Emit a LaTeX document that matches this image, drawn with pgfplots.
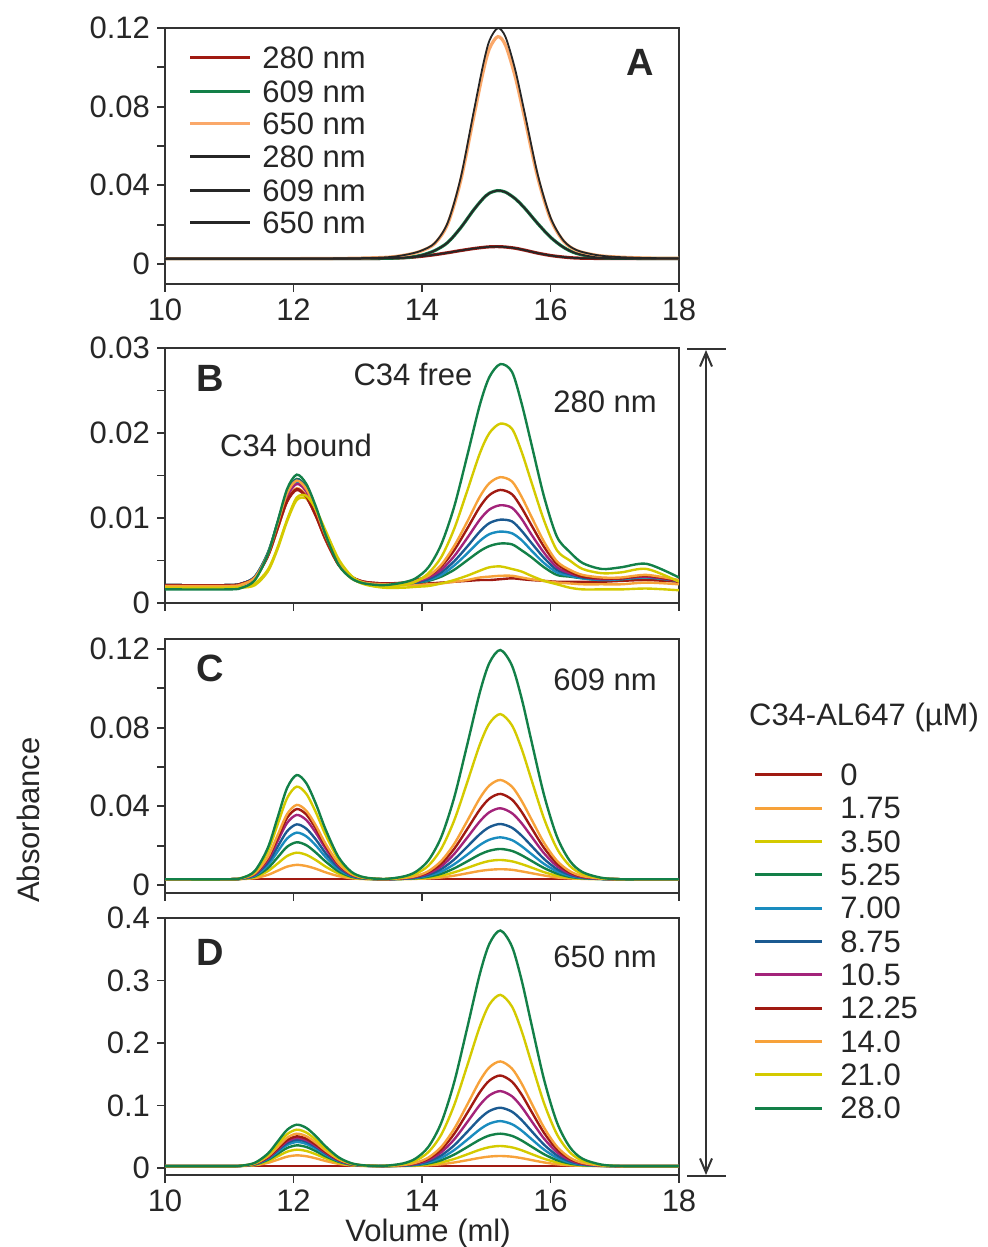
\documentclass[border=0pt]{standalone}
\usepackage{pgfplots}
\pgfplotsset{compat=1.18}
\usepackage{pgfplotstable}
\usepackage{fontspec}
\setmainfont{Liberation Sans}
\usetikzlibrary{arrows.meta}

\definecolor{cDR}{HTML}{A01A12}
\definecolor{cOR}{HTML}{F7A23A}
\definecolor{cYE}{HTML}{D4CA00}
\definecolor{cGR}{HTML}{138048}
\definecolor{cCY}{HTML}{1A8CBF}
\definecolor{cBL}{HTML}{1B5A91}
\definecolor{cMA}{HTML}{A3237A}
\definecolor{cOL}{HTML}{FAA86A}
\definecolor{axgray}{HTML}{333333}

% panel A: single run, three wavelengths (colour) and repeat (black)
\pgfplotstableread{
x     r280   g609   o650   k650
10.0  .0027  .0027  .0027  .0027
11.0  .0027  .0027  .0027  .0027
12.0  .0027  .0027  .0027  .0027
12.5  .0027  .0027  .0028  .0028
13.0  .0027  .0027  .0029  .0029
13.5  .0029  .0029  .0035  .0035
13.8  .0033  .0034  .0049  .0050
14.0  .0039  .0045  .0067  .0069
14.2  .0047  .0068  .0104  .0107
14.4  .0057  .0109  .0203  .0210
14.6  .0068  .0183  .0420  .0435
14.8  .0078  .0273  .0739  .0766
14.95 .0084  .0332  .0975  .1011
15.05 .0087  .0360  .1095  .1136
15.18 .0088  .0373  .1156  .1199
15.3  .0086  .0365  .1112  .1154
15.45 .0080  .0332  .0953  .0989
15.6  .0070  .0283  .0738  .0765
15.8  .0055  .0206  .0441  .0457
16.0  .0043  .0136  .0229  .0237
16.2  .0035  .0085  .0117  .0120
16.4  .0030  .0054  .0069  .0071
16.7  .0028  .0034  .0045  .0046
17.0  .0027  .0029  .0036  .0036
17.5  .0027  .0028  .0030  .0030
18.0  .0027  .0028  .0029  .0029
}\tabA

% panel B: 280 nm, columns = C34-AL647 concentration
\pgfplotstableread{
x     s0    s1    s2    s3    s4    s5    s6    s7    s8    s9    s10
10.0  .0021 .0020 .0017 .0021 .0021 .0021 .0020 .0021 .0020 .0018 .0016
11.0  .0021 .0020 .0017 .0021 .0021 .0021 .0020 .0021 .0020 .0018 .0016
11.2  .0023 .0022 .0018 .0023 .0023 .0023 .0022 .0023 .0022 .0019 .0018
11.4  .0030 .0029 .0021 .0031 .0031 .0031 .0030 .0030 .0030 .0023 .0027
11.6  .0055 .0055 .0037 .0059 .0058 .0058 .0056 .0055 .0057 .0039 .0057
11.75 .0087 .0087 .0063 .0094 .0093 .0094 .0090 .0087 .0093 .0065 .0095
11.9  .0119 .0121 .0096 .0130 .0128 .0130 .0125 .0120 .0129 .0098 .0134
12.05 .0133 .0135 .0121 .0146 .0143 .0145 .0140 .0134 .0144 .0124 .0151
12.2  .0124 .0126 .0123 .0136 .0133 .0135 .0131 .0125 .0134 .0126 .0140
12.35 .0102 .0103 .0108 .0111 .0109 .0110 .0106 .0102 .0109 .0110 .0113
12.5  .0074 .0075 .0083 .0081 .0079 .0080 .0077 .0075 .0079 .0085 .0080
12.7  .0045 .0045 .0050 .0048 .0047 .0048 .0046 .0045 .0047 .0052 .0045
12.9  .0031 .0029 .0030 .0031 .0031 .0031 .0031 .0031 .0031 .0032 .0029
13.1  .0025 .0023 .0022 .0024 .0024 .0024 .0024 .0025 .0024 .0023 .0023
13.4  .0023 .0021 .0018 .0022 .0022 .0022 .0022 .0023 .0022 .0019 .0021
13.7  .0023 .0021 .0018 .0023 .0023 .0023 .0023 .0024 .0023 .0021 .0024
13.9  .0023 .0021 .0019 .0024 .0024 .0024 .0025 .0027 .0026 .0025 .0029
14.1  .0023 .0022 .0020 .0026 .0027 .0028 .0030 .0032 .0032 .0035 .0042
14.3  .0024 .0023 .0023 .0031 .0033 .0036 .0039 .0043 .0045 .0054 .0069
14.5  .0025 .0025 .0027 .0039 .0044 .0049 .0055 .0062 .0067 .0087 .0113
14.7  .0026 .0027 .0032 .0050 .0058 .0066 .0076 .0087 .0095 .0131 .0172
14.9  .0027 .0030 .0038 .0061 .0073 .0084 .0098 .0113 .0125 .0176 .0233
15.05 .0027 .0031 .0042 .0067 .0081 .0094 .0110 .0127 .0141 .0200 .0266
15.22 .0028 .0032 .0043 .0070 .0084 .0098 .0115 .0133 .0148 .0211 .0281
15.4  .0029 .0032 .0040 .0069 .0082 .0096 .0112 .0128 .0143 .0205 .0272
15.55 .0028 .0030 .0037 .0062 .0074 .0085 .0099 .0112 .0125 .0178 .0235
15.7  .0027 .0028 .0032 .0054 .0062 .0071 .0081 .0092 .0102 .0143 .0188
15.9  .0026 .0026 .0026 .0042 .0047 .0053 .0059 .0066 .0072 .0097 .0125
16.1  .0025 .0024 .0022 .0033 .0036 .0039 .0042 .0046 .0049 .0062 .0078
16.3  .0025 .0023 .0018 .0031 .0032 .0034 .0035 .0037 .0039 .0050 .0060
16.5  .0025 .0022 .0016 .0029 .0029 .0030 .0031 .0031 .0033 .0040 .0047
16.8  .0025 .0022 .0016 .0027 .0027 .0028 .0028 .0029 .0030 .0035 .0040
17.1  .0026 .0022 .0016 .0028 .0028 .0029 .0029 .0029 .0030 .0036 .0042
17.5  .0027 .0024 .0017 .0030 .0030 .0031 .0031 .0032 .0033 .0040 .0046
18.0  .0025 .0022 .0015 .0026 .0026 .0026 .0026 .0026 .0027 .0025 .0030
}\tabB

% panel C: 609 nm
\pgfplotstableread{
x     s0    s1    s2    s3    s4    s5    s6    s7    s8    s9    s10
10.0  .0029 .0029 .0029 .0029 .0029 .0029 .0029 .0029 .0029 .0029 .0029
11.0  .0029 .0029 .0029 .0029 .0029 .0029 .0029 .0029 .0029 .0029 .0029
11.2  .0029 .0030 .0031 .0032 .0032 .0033 .0034 .0034 .0034 .0036 .0036
11.4  .0029 .0035 .0040 .0044 .0048 .0052 .0055 .0058 .0060 .0067 .0072
11.6  .0029 .0051 .0070 .0085 .0100 .0113 .0127 .0136 .0142 .0170 .0188
11.75 .0029 .0072 .0108 .0139 .0168 .0193 .0221 .0238 .0251 .0305 .0340
11.9  .0029 .0093 .0147 .0194 .0236 .0273 .0315 .0341 .0360 .0441 .0493
12.05 .0029 .0102 .0164 .0217 .0266 .0308 .0356 .0386 .0407 .0500 .0559
12.2  .0029 .0096 .0153 .0202 .0247 .0286 .0330 .0358 .0377 .0463 .0517
12.35 .0029 .0082 .0126 .0164 .0200 .0230 .0264 .0286 .0301 .0368 .0411
12.5  .0029 .0064 .0093 .0119 .0142 .0162 .0185 .0199 .0209 .0254 .0282
12.7  .0029 .0045 .0058 .0069 .0080 .0089 .0099 .0105 .0110 .0130 .0142
12.9  .0029 .0034 .0039 .0042 .0046 .0049 .0052 .0054 .0056 .0062 .0067
13.1  .0029 .0030 .0031 .0032 .0033 .0034 .0035 .0035 .0036 .0037 .0039
13.4  .0029 .0029 .0029 .0029 .0029 .0029 .0029 .0029 .0029 .0030 .0030
13.7  .0029 .0030 .0030 .0031 .0031 .0032 .0033 .0034 .0035 .0038 .0042
13.9  .0029 .0031 .0032 .0034 .0036 .0038 .0041 .0043 .0045 .0056 .0066
14.1  .0029 .0033 .0037 .0042 .0047 .0052 .0059 .0065 .0070 .0098 .0125
14.3  .0029 .0038 .0047 .0057 .0068 .0081 .0095 .0109 .0122 .0184 .0244
14.5  .0029 .0047 .0064 .0084 .0105 .0129 .0157 .0183 .0208 .0327 .0443
14.7  .0029 .0059 .0086 .0119 .0153 .0193 .0239 .0282 .0323 .0518 .0708
14.9  .0029 .0071 .0109 .0155 .0203 .0258 .0323 .0383 .0441 .0714 .0979
15.05 .0029 .0077 .0122 .0174 .0230 .0294 .0370 .0439 .0506 .0822 .1130
15.22 .0029 .0080 .0127 .0183 .0242 .0310 .0390 .0463 .0534 .0869 .1195
15.4  .0029 .0077 .0120 .0173 .0228 .0291 .0365 .0434 .0500 .0812 .1116
15.55 .0029 .0069 .0106 .0151 .0197 .0251 .0314 .0372 .0428 .0693 .0950
15.7  .0029 .0060 .0089 .0123 .0158 .0200 .0248 .0292 .0336 .0539 .0737
15.9  .0029 .0048 .0065 .0086 .0107 .0132 .0161 .0188 .0214 .0337 .0457
16.1  .0029 .0038 .0047 .0058 .0069 .0081 .0096 .0110 .0123 .0185 .0246
16.3  .0029 .0033 .0037 .0041 .0046 .0052 .0058 .0064 .0070 .0097 .0123
16.5  .0029 .0031 .0032 .0034 .0036 .0038 .0040 .0042 .0045 .0055 .0065
16.8  .0029 .0030 .0030 .0030 .0030 .0031 .0031 .0032 .0032 .0034 .0036
17.1  .0029 .0029 .0029 .0029 .0029 .0029 .0029 .0029 .0029 .0029 .0029
17.5  .0029 .0029 .0029 .0029 .0029 .0029 .0029 .0029 .0029 .0029 .0029
18.0  .0029 .0029 .0029 .0029 .0029 .0029 .0029 .0029 .0029 .0029 .0029
}\tabC

% panel D: 650 nm
\pgfplotstableread{
x     s0    s1    s2    s3    s4    s5    s6    s7    s8    s9    s10
10.0  .0030 .0030 .0030 .0030 .0030 .0030 .0030 .0030 .0030 .0030 .0030
11.0  .0030 .0030 .0030 .0030 .0030 .0030 .0030 .0030 .0030 .0030 .0030
11.2  .0030 .0032 .0034 .0035 .0035 .0036 .0036 .0037 .0037 .0038 .0039
11.4  .0030 .0044 .0051 .0057 .0061 .0064 .0066 .0069 .0072 .0077 .0084
11.6  .0030 .0082 .0109 .0130 .0146 .0157 .0165 .0173 .0186 .0205 .0229
11.75 .0030 .0131 .0184 .0225 .0256 .0278 .0294 .0309 .0334 .0372 .0419
11.9  .0030 .0181 .0260 .0320 .0368 .0400 .0424 .0447 .0484 .0540 .0610
12.05 .0030 .0202 .0293 .0362 .0416 .0453 .0480 .0506 .0549 .0613 .0693
12.2  .0030 .0188 .0272 .0336 .0385 .0420 .0444 .0468 .0508 .0567 .0641
12.35 .0030 .0154 .0219 .0269 .0308 .0335 .0354 .0373 .0404 .0450 .0507
12.5  .0030 .0112 .0155 .0188 .0214 .0232 .0245 .0257 .0278 .0308 .0346
12.7  .0030 .0067 .0086 .0101 .0113 .0121 .0126 .0132 .0141 .0155 .0172
12.9  .0030 .0042 .0049 .0054 .0057 .0060 .0062 .0064 .0067 .0071 .0077
13.1  .0030 .0033 .0035 .0036 .0037 .0038 .0038 .0039 .0039 .0041 .0042
13.4  .0030 .0030 .0030 .0030 .0031 .0031 .0031 .0032 .0032 .0033 .0034
13.7  .0030 .0032 .0034 .0036 .0038 .0040 .0043 .0046 .0048 .0060 .0072
13.9  .0030 .0035 .0040 .0047 .0053 .0060 .0068 .0076 .0084 .0118 .0151
14.1  .0030 .0043 .0056 .0073 .0089 .0107 .0128 .0149 .0167 .0255 .0339
14.3  .0030 .0060 .0089 .0125 .0162 .0202 .0251 .0297 .0338 .0534 .0724
14.5  .0030 .0088 .0144 .0214 .0286 .0362 .0456 .0545 .0625 .1003 .1368
14.7  .0030 .0124 .0217 .0332 .0449 .0574 .0728 .0874 .1005 .1625 .2224
14.9  .0030 .0162 .0292 .0453 .0617 .0791 .1008 .1212 .1395 .2263 .3103
15.05 .0030 .0183 .0334 .0520 .0710 .0912 .1163 .1399 .1611 .2617 .3589
15.22 .0030 .0192 .0352 .0549 .0750 .0964 .1230 .1480 .1705 .2770 .3800
15.4  .0030 .0181 .0330 .0514 .0701 .0901 .1148 .1381 .1591 .2584 .3544
15.55 .0030 .0158 .0284 .0440 .0599 .0768 .0978 .1176 .1353 .2195 .3008
15.7  .0030 .0128 .0225 .0345 .0467 .0597 .0758 .0910 .1047 .1693 .2318
15.9  .0030 .0089 .0148 .0220 .0294 .0373 .0470 .0562 .0645 .1036 .1414
16.1  .0030 .0060 .0090 .0126 .0164 .0204 .0253 .0300 .0342 .0540 .0731
16.3  .0030 .0043 .0056 .0072 .0088 .0106 .0127 .0147 .0166 .0252 .0335
16.5  .0030 .0035 .0040 .0046 .0052 .0059 .0067 .0075 .0082 .0115 .0147
16.8  .0030 .0031 .0032 .0033 .0034 .0036 .0037 .0039 .0040 .0046 .0053
17.1  .0030 .0030 .0030 .0030 .0030 .0030 .0030 .0030 .0030 .0031 .0032
17.5  .0030 .0030 .0030 .0030 .0030 .0030 .0030 .0030 .0030 .0030 .0030
18.0  .0030 .0030 .0030 .0030 .0030 .0030 .0030 .0030 .0030 .0030 .0030
}\tabD

\newcommand{\lbl}{\fontsize{15.5}{18}\selectfont}

\pgfplotsset{
  panel/.style={
    scale only axis, width=257pt, anchor=south west,
    xmin=10, xmax=18,
    axis line style={axgray, line width=1pt},
    tick style={axgray, line width=0.9pt},
    tick align=outside, major tick length=4pt, minor tick length=4pt,
    xtick pos=bottom, ytick pos=left,
    xtick={10,12,14,16,18},
    scaled y ticks=false,
    yticklabel={\pgfmathprintnumber[fixed,precision=2,assume math mode=true]{\tick}},
    ticklabel style={font=\lbl, text=black!85},
    every axis plot/.append style={smooth, line width=1.2pt, mark=none},
  },
  xnums/.style={xticklabel={\pgfmathprintnumber[assume math mode=true]{\tick}}},
  nox/.style={xticklabels={}},
}

\newcommand{\series}[1]{%
  \addplot[cDR] table[x=x,y=s0]{#1};
  \addplot[cOR] table[x=x,y=s1]{#1};
  \addplot[cYE] table[x=x,y=s2]{#1};
  \addplot[cGR] table[x=x,y=s3]{#1};
  \addplot[cCY] table[x=x,y=s4]{#1};
  \addplot[cBL] table[x=x,y=s5]{#1};
  \addplot[cMA] table[x=x,y=s6]{#1};
  \addplot[cDR] table[x=x,y=s7]{#1};
  \addplot[cOR] table[x=x,y=s8]{#1};
  \addplot[cYE] table[x=x,y=s9]{#1};
  \addplot[cGR] table[x=x,y=s10]{#1};
}

\begin{document}
\begin{tikzpicture}
\useasboundingbox (0,0) rectangle (493.5pt,623.5pt);

% A
\begin{axis}[panel, xnums, at={(82.5pt,481.5pt)}, height=128pt,
  ymin=-0.0102, ymax=0.12,
  ytick={0,0.04,0.08,0.12}, minor ytick={0.02,0.06,0.1}]
  \addplot[cDR, line width=1.6pt] table[x=x,y=r280]{\tabA};
  \addplot[cGR, line width=1.6pt] table[x=x,y=g609]{\tabA};
  \addplot[cOL, line width=1.6pt] table[x=x,y=o650]{\tabA};
  \addplot[black!85, line width=0.9pt] table[x=x,y=r280]{\tabA};
  \addplot[black!85, line width=0.9pt] table[x=x,y=g609]{\tabA};
  \addplot[black!85, line width=0.9pt] table[x=x,y=k650]{\tabA};
\end{axis}

% B
\begin{axis}[panel, nox, at={(82.5pt,322pt)}, height=127.5pt,
  ymin=0, ymax=0.03,
  ytick={0,0.01,0.02,0.03}, minor ytick={0.005,0.015,0.025}]
  \series{\tabB}
\end{axis}

% C
\begin{axis}[panel, nox, at={(82.5pt,177pt)}, height=127pt,
  ymin=-0.0041, ymax=0.1251,
  ytick={0,0.04,0.08,0.12}, minor ytick={0.02,0.06,0.1}]
  \series{\tabC}
\end{axis}

% D
\begin{axis}[panel, xnums, at={(82.5pt,36pt)}, height=128.5pt,
  ymin=-0.0112, ymax=0.4,
  ytick={0,0.1,0.2,0.3,0.4}]
  \series{\tabD}
\end{axis}

% legend of A
\foreach \c/\t/\y in {cDR/280 nm/594.5, cGR/609 nm/577.5, cOL/650 nm/561.5,
    black!85/280 nm/545, black!85/609 nm/528, black!85/650 nm/512} {
  \draw[\c, line width=1.5pt] (95pt,\y pt) -- (125pt,\y pt);
  \node[anchor=west, inner sep=0, font=\lbl, text=black!85] at (131pt,\y pt) {\t};
}

% panel letters and annotations
\node[font=\bfseries\fontsize{19}{22}\selectfont, text=black!85] at (320pt,592.5pt) {A};
\node[font=\bfseries\fontsize{19}{22}\selectfont, text=black!85] at (105pt,434.5pt) {B};
\node[font=\bfseries\fontsize{19}{22}\selectfont, text=black!85] at (105pt,289.5pt) {C};
\node[font=\bfseries\fontsize{19}{22}\selectfont, text=black!85] at (105pt,147.5pt) {D};
\node[font=\lbl, text=black!85] at (302.5pt,422.5pt) {280 nm};
\node[font=\lbl, text=black!85] at (302.5pt,283.5pt) {609 nm};
\node[font=\lbl, text=black!85] at (302.5pt,145pt) {650 nm};
\node[font=\lbl, text=black!85] at (148pt,401pt) {C34 bound};
\node[font=\lbl, text=black!85] at (206.5pt,436.5pt) {C34 free};
\node[font=\lbl, text=black!85, inner sep=0] at (214pt,7pt) {Volume (ml)};
\node[font=\lbl, text=black!85, rotate=90] at (14pt,213.5pt) {Absorbance};

% range arrow
\draw[axgray, line width=1pt] (343.5pt,449pt) -- (363pt,449pt);
\draw[axgray, line width=1pt] (343.5pt,35.5pt) -- (363pt,35.5pt);
\draw[axgray, line width=1pt, {Straight Barb[length=7pt,width=6pt]}-{Straight Barb[length=7pt,width=6pt]}]
  (353pt,448.5pt) -- (353pt,36pt);

% concentration legend
\node[font=\lbl, text=black!85] at (432pt,265pt) {C34-AL647 (µM)};
\foreach \c/\t/\y in {cDR/0/236, cOR/1.75/219.35, cYE/3.50/202.7, cGR/5.25/186,
    cCY/7.00/169.35, cBL/8.75/152.7, cMA/10.5/136, cDR/12.25/119.35,
    cOR/14.0/102.7, cYE/21.0/86, cGR/28.0/69.35} {
  \draw[\c, line width=1.5pt] (377.5pt,\y pt) -- (411pt,\y pt);
  \node[anchor=west, inner sep=0, font=\lbl, text=black!85] at (420pt,\y pt) {\t};
}
\end{tikzpicture}
\end{document}
